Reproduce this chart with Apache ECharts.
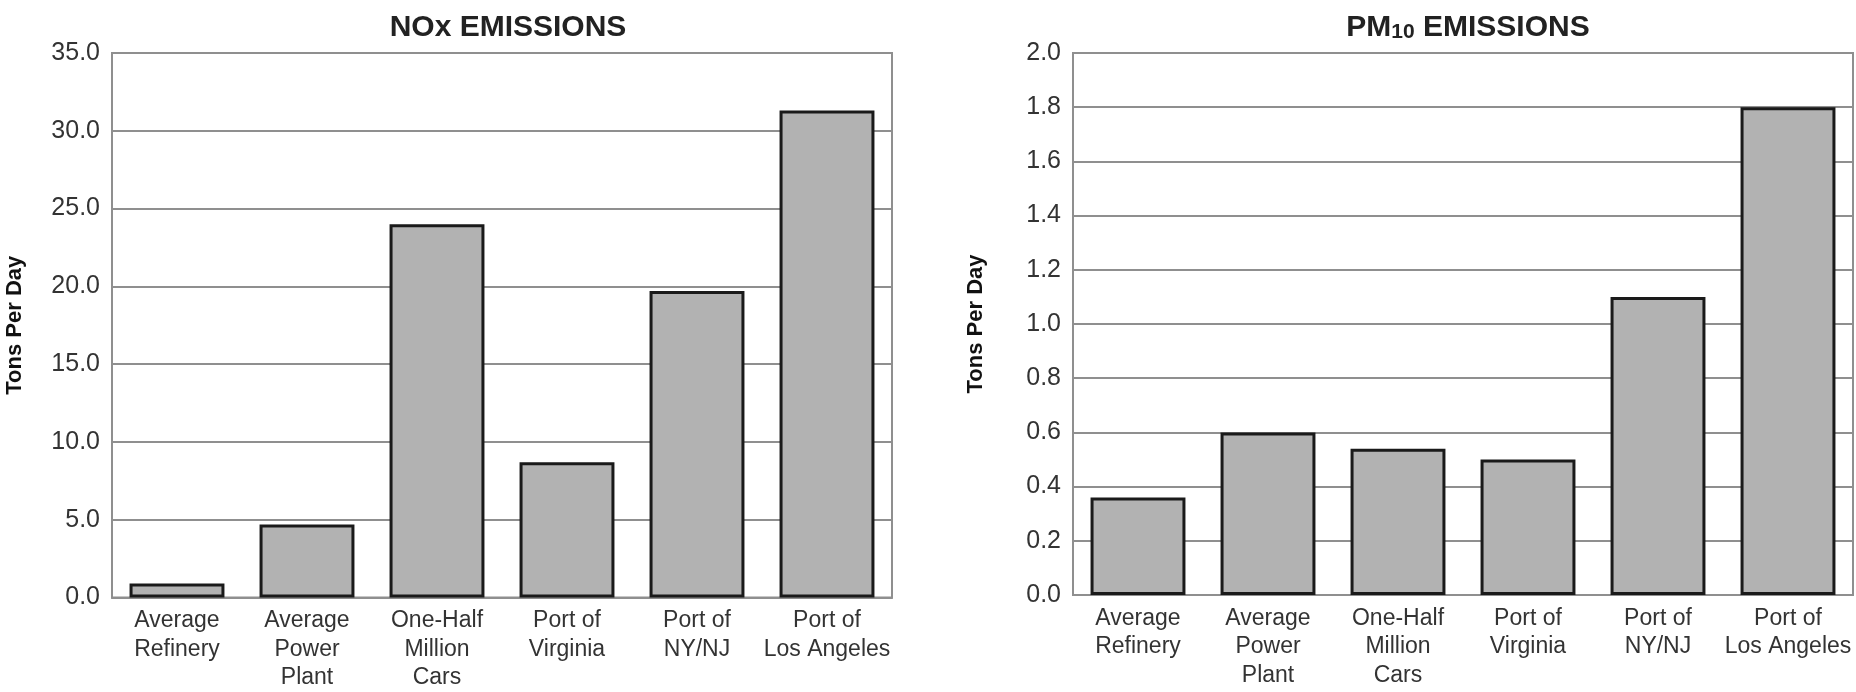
<!DOCTYPE html>
<html>
<head>
<meta charset="utf-8">
<script src="https://cdn.jsdelivr.net/npm/echarts@6/dist/echarts.min.js"></script>
<style>
html,body{margin:0;padding:0;background:#fff;}
#chart{width:1856px;height:692px;}
</style>
</head>
<body>
<div id="chart"></div>
<script>
var categories = ['Average\nRefinery', 'Average\nPower\nPlant', 'One-Half\nMillion\nCars', 'Port of\nVirginia', 'Port of\nNY/NJ', 'Port of\nLos Angeles'];
var noxValues = [0.9, 4.7, 24.0, 8.7, 19.7, 31.3];
var pm10Values = [0.36, 0.6, 0.54, 0.5, 1.1, 1.8];
var noxTitle = 'NOx EMISSIONS';
var pm10Title = 'PM{sub|10} EMISSIONS';
var yName = 'Tons Per Day';

var FONT = "'Liberation Sans', Arial, sans-serif";
var GRID_COLOR = '#8f8f8f';
var TEXT_COLOR = '#333';

function makeX(gi) {
  return {
    type: 'category', gridIndex: gi, data: categories,
    axisLine: {show: true, lineStyle: {color: GRID_COLOR, width: 2}},
    axisTick: {show: false},
    axisLabel: {interval: 0, color: TEXT_COLOR, fontFamily: FONT, fontSize: 23, lineHeight: 28.5, margin: 9}
  };
}
function makeY(gi, max, interval, decimals) {
  return {
    type: 'value', gridIndex: gi, min: 0, max: max, interval: interval,
    name: yName, nameLocation: 'middle', nameRotate: 90, nameGap: 86,
    nameTextStyle: {color: '#111', fontFamily: FONT, fontWeight: 'bold', fontSize: 22},
    axisLine: {show: true, lineStyle: {color: GRID_COLOR, width: 2}},
    axisTick: {show: false},
    splitLine: {show: true, lineStyle: {color: GRID_COLOR, width: 2}},
    axisLabel: {color: TEXT_COLOR, fontFamily: FONT, fontSize: 25, margin: 12,
      formatter: function (v) { return v.toFixed(decimals); }}
  };
}
function makeBar(gi, data) {
  return {
    type: 'bar', xAxisIndex: gi, yAxisIndex: gi, data: data,
    barWidth: '73%',
    itemStyle: {color: '#b2b2b2', borderColor: '#1a1a1a', borderWidth: 3},
    silent: true, animation: false
  };
}

var chart = echarts.init(document.getElementById('chart'), null, {renderer: 'canvas'});
chart.setOption({
  backgroundColor: '#fff',
  animation: false,
  title: [
    {text: noxTitle, left: 503, top: 8, textAlign: 'center',
     textStyle: {fontFamily: FONT, fontWeight: 'bold', fontSize: 30, color: '#222', lineHeight: 30}},
    {text: pm10Title, left: 1463, top: 8, textAlign: 'center',
     textStyle: {fontFamily: FONT, fontWeight: 'bold', fontSize: 30, color: '#222', lineHeight: 30,
       rich: {sub: {fontFamily: FONT, fontWeight: 'bold', fontSize: 21, color: '#222', lineHeight: 14, verticalAlign: 'bottom'}}}}
  ],
  grid: [
    {left: 112, right: 964, top: 53, bottom: 94, show: true, borderColor: GRID_COLOR, borderWidth: 2, backgroundColor: 'transparent'},
    {left: 1073, right: 3, top: 53, bottom: 97, show: true, borderColor: GRID_COLOR, borderWidth: 2, backgroundColor: 'transparent'}
  ],
  xAxis: [makeX(0), makeX(1)],
  yAxis: [makeY(0, 35, 5, 1), makeY(1, 2, 0.2, 1)],
  series: [makeBar(0, noxValues), makeBar(1, pm10Values)]
});
</script>
</body>
</html>
